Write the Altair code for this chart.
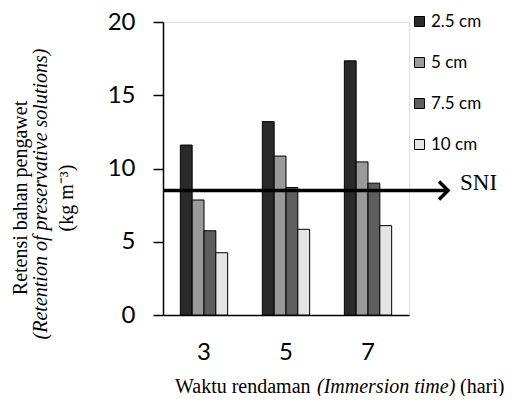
import altair as alt
import pandas as pd

days = ["3", "5", "7"]
sizes = ["2.5 cm", "5 cm", "7.5 cm", "10 cm"]
ret_25 = [11.6, 13.2, 17.35]
ret_5 = [7.85, 10.85, 10.45]
ret_75 = [5.75, 8.7, 9.0]
ret_10 = [4.25, 5.85, 6.1]
sni_value = [8.5]
sni_label = ["SNI"]
y_ticks = [0, 5, 10, 15, 20]

rows = []
for s, vals in zip(sizes, [ret_25, ret_5, ret_75, ret_10]):
    for d, v in zip(days, vals):
        rows.append({"day": d, "size": s, "value": v})
df = pd.DataFrame(rows)

fills = ["#2a2a2a", "#9a9a9a", "#5e5e5e", "#e4e4e4"]

bars = alt.Chart(df).mark_bar(stroke="black", strokeWidth=1).encode(
    x=alt.X("day:N", sort=days,
            scale=alt.Scale(paddingInner=0.423, paddingOuter=0.2115),
            axis=alt.Axis(title=None, labelAngle=0, ticks=False, labelFont="Lato",
                          labelFontSize=24, labelColor="black", labelPadding=25,
                          domainColor="black", domainWidth=1.5)),
    xOffset=alt.XOffset("size:N", sort=sizes,
                        scale=alt.Scale(paddingInner=0, paddingOuter=0)),
    y=alt.Y("value:Q", scale=alt.Scale(domain=[0, 20]),
            axis=alt.Axis(title=None, values=y_ticks, grid=False, tickSize=10,
                          tickColor="black", tickWidth=1.5, domainColor="black",
                          domainWidth=1.5, labelFont="Lato", labelFontSize=24,
                          labelColor="black", labelPadding=18)),
    fill=alt.Fill("size:N", sort=sizes, scale=alt.Scale(domain=sizes, range=fills),
                  legend=alt.Legend(title=None, orient="none", legendX=248, legendY=-9,
                                    symbolType="square", symbolSize=100,
                                    symbolStrokeColor="black", symbolStrokeWidth=1,
                                    labelFont="Lato", labelFontSize=17,
                                    labelColor="black", rowPadding=23,
                                    labelOffset=3, padding=0)),
)

sni_df = pd.DataFrame({"value": sni_value, "label": sni_label})
rule = alt.Chart(sni_df).mark_rule(color="black", strokeWidth=3.5).encode(
    y=alt.Y("value:Q", title=None), x=alt.value(0), x2=alt.value(285))
arrow = alt.Chart(sni_df).mark_point(
    shape="M-1,-1L0,0L-1,1", filled=False, stroke="black", strokeWidth=3.5,
    size=324, opacity=1).encode(y=alt.Y("value:Q", title=None), x=alt.value(285))
sni_text = alt.Chart(sni_df).mark_text(
    font="Liberation Serif", fontSize=23, align="left", baseline="middle",
    dy=-7, color="black").encode(y=alt.Y("value:Q", title=None), x=alt.value(297),
                                 text="label:N")

ytitle_df = pd.DataFrame({
    "t": ["Retensi bahan pengawet", "(Retention of  preservative solutions)", "(kg m\u207b\u00b3)"],
    "px": [-142, -122, -96],
    "style": ["normal", "italic", "normal"],
})
ytitle_n = alt.Chart(ytitle_df[ytitle_df["style"] == "normal"]).mark_text(
    font="Liberation Serif", fontSize=20, angle=270, align="center",
    baseline="middle", color="black").encode(
    text="t:N", x=alt.X("px:Q", scale=None), y=alt.value(176))
ytitle_i = alt.Chart(ytitle_df[ytitle_df["style"] == "italic"]).mark_text(
    font="Liberation Serif", fontSize=20, angle=270, align="center",
    baseline="middle", fontStyle="italic", color="black").encode(
    text="t:N", x=alt.X("px:Q", scale=None), y=alt.value(172))

xtitle_df = pd.DataFrame({
    "t": ["Waktu rendaman", "(Immersion time)", "(hari)"],
    "px": [12, 154, 297],
    "style": ["normal", "italic", "normal"],
})
xtitle_n = alt.Chart(xtitle_df[xtitle_df["style"] == "normal"]).mark_text(
    font="Liberation Serif", fontSize=20, align="left", baseline="middle",
    color="black").encode(text="t:N", x=alt.X("px:Q", scale=None), y=alt.value(365))
xtitle_i = alt.Chart(xtitle_df[xtitle_df["style"] == "italic"]).mark_text(
    font="Liberation Serif", fontSize=20, align="left", baseline="middle",
    fontStyle="italic", color="black").encode(
    text="t:N", x=alt.X("px:Q", scale=None), y=alt.value(365))

chart = alt.layer(bars, rule, arrow, sni_text, ytitle_n, ytitle_i, xtitle_n, xtitle_i).properties(
    width=246, height=293,
    padding={"left": 155, "top": 14, "right": 108, "bottom": 81},
    autosize="none",
).configure_view(stroke=None).configure(background="white")

chart.save("out.html", embed_options={"renderer": "svg", "actions": False})
